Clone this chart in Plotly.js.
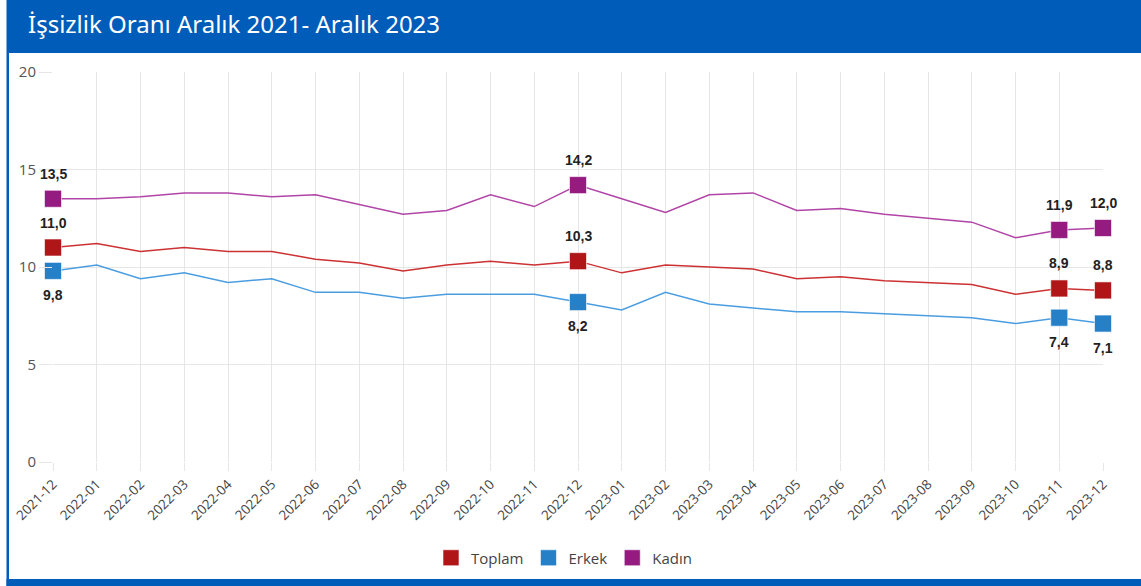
<!DOCTYPE html>
<html>
<head>
<meta charset="utf-8">
<script src="https://cdn.plot.ly/plotly-3.0.1.min.js"></script>
<style>
html,body{margin:0;padding:0;background:#fff;}
#chart{width:1141px;height:586px;}
</style>
</head>
<body>
<div id="chart"></div>
<script>
const months = ["2021-12","2022-01","2022-02","2022-03","2022-04","2022-05","2022-06","2022-07","2022-08","2022-09","2022-10","2022-11","2022-12",
  "2023-01","2023-02","2023-03","2023-04","2023-05","2023-06","2023-07","2023-08","2023-09","2023-10","2023-11","2023-12"];
const toplam = [11.0,11.2,10.8,11.0,10.8,10.8,10.4,10.2,9.8,10.1,10.3,10.1,10.3,9.7,10.1,10.0,9.9,9.4,9.5,9.3,9.2,9.1,8.6,8.9,8.8];
const erkek  = [9.8,10.1,9.4,9.7,9.2,9.4,8.7,8.7,8.4,8.6,8.6,8.6,8.2,7.8,8.7,8.1,7.9,7.7,7.7,7.6,7.5,7.4,7.1,7.4,7.1];
const kadin  = [13.5,13.5,13.6,13.8,13.8,13.6,13.7,13.2,12.7,12.9,13.7,13.1,14.2,13.5,12.8,13.7,13.8,12.9,13.0,12.7,12.5,12.3,11.5,11.9,12.0];
const highlight = [0,12,23,24];
const seriesNames = ["Toplam","Erkek","Kadın"];
const yTicks = [0,5,10,15,20];
const titleText = "İşsizlik Oranı Aralık 2021- Aralık 2023";

const W = 1141, H = 586;
const M = {l:53, r:38, t:72, b:124};
const PW = W - M.l - M.r, PH = H - M.t - M.b;
const px = x => (x - M.l) / PW;
const py = y => (H - M.b - y) / PH;

const series = [
  {name:seriesNames[0], y:toplam, line:"#cc3133", marker:"#b01518", shift:25},
  {name:seriesNames[1], y:erkek,  line:"#4a9de0", marker:"#2580c8", shift:-24},
  {name:seriesNames[2], y:kadin,  line:"#b045a7", marker:"#951b80", shift:25}
];

const traces = [];
const annotations = [];
series.forEach(s => {
  traces.push({x:months, y:s.y, type:"scatter", mode:"lines", showlegend:false,
    line:{color:s.line, width:1.5}, cliponaxis:false, hoverinfo:"x+y"});
});
series.forEach(s => {
  traces.push({x:highlight.map(i=>months[i]), y:highlight.map(i=>s.y[i]), type:"scatter", mode:"markers",
    name:s.name, showlegend:true, cliponaxis:false,
    marker:{symbol:"square", size:17, color:s.marker, line:{color:"rgba(255,255,255,0.6)", width:1}}});
  highlight.forEach(i => {
    annotations.push({x:months[i], y:s.y[i], xref:"x", yref:"y", showarrow:false,
      text:s.y[i].toFixed(1).replace(".", ","), yshift:s.shift,
      font:{family:"Liberation Sans, Arial, sans-serif", size:14, color:"#222", weight:"bold"}});
  });
});

const blue = "#005cb9";
const layout = {
  width:W, height:H,
  margin:M,
  paper_bgcolor:"#fff", plot_bgcolor:"#fff",
  title:{text:titleText, x:28/W, xanchor:"left", xref:"container", y:1-25/H, yanchor:"middle", yref:"container",
    font:{family:"Noto Sans, Open Sans, sans-serif", size:24, color:"#fff"}},
  shapes:[
    {type:"rect", xref:"paper", yref:"paper", x0:px(6.5), x1:px(W+2), y0:py(53), y1:py(-2), fillcolor:blue, line:{width:0}, layer:"above"},
    {type:"rect", xref:"paper", yref:"paper", x0:px(6.5), x1:px(9), y0:py(H+2), y1:py(53), fillcolor:blue, line:{width:0}, layer:"above"},
    {type:"rect", xref:"paper", yref:"paper", x0:px(6.5), x1:px(W+2), y0:py(H+2), y1:py(579), fillcolor:blue, line:{width:0}, layer:"above"}
  ],
  xaxis:{type:"category", range:[0, months.length-1], showgrid:true, gridcolor:"#e6e6e6", gridwidth:1,
    zeroline:false, showline:false, ticks:"outside", ticklen:8, tickcolor:"#e6e6e6", tickwidth:1,
    tickangle:-45, tickfont:{family:"Open Sans, sans-serif", size:13.5, color:"#444"}, fixedrange:true},
  yaxis:{range:[0,20], tickvals:yTicks, showgrid:true, gridcolor:"#e6e6e6", gridwidth:1, zeroline:false,
    showline:false, ticks:"outside", ticklen:13, tickcolor:"#e6e6e6", tickwidth:1,
    tickfont:{family:"Open Sans, sans-serif", size:15, color:"#555"}, fixedrange:true},
  legend:{orientation:"h", x:0.5 - 14/PW, xanchor:"center", y:py(558), yanchor:"middle",
    font:{family:"Open Sans, sans-serif", size:15, color:"#444"}, itemclick:false},
  annotations:annotations,
  showlegend:true
};
Plotly.newPlot("chart", traces, layout, {displayModeBar:false, staticPlot:true});
</script>
</body>
</html>
